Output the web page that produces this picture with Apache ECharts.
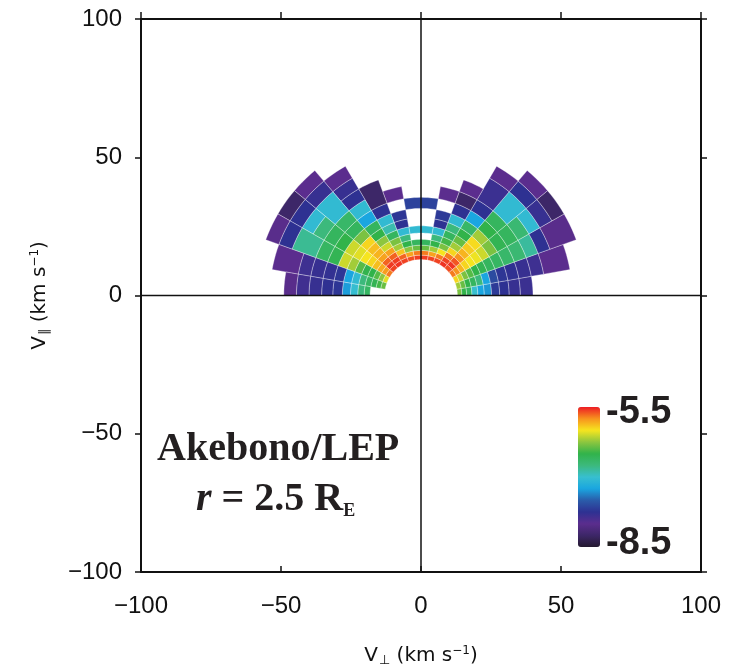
<!DOCTYPE html>
<html>
<head>
<meta charset="utf-8">
<script src="https://cdn.jsdelivr.net/npm/echarts/dist/echarts.min.js"></script>
<style>html,body{margin:0;padding:0;background:#fff}#chart{width:737px;height:672px}</style>
</head>
<body>
<div id="chart"></div>
<script>
// ---- data ----
const axisTicks = [-100, -50, 0, 50, 100];
// radial (speed, km/s) bin edges
const speedEdges = [13, 14.6, 16.3, 18.2, 20.3, 22.6, 25.2, 28.1, 31.5, 35.5, 40, 44.5, 49, 54, 59];
// angular bin edges (degrees from +V_perp axis)
const angleEdges = [0, 10, 20, 30, 40, 50, 60, 70, 80, 100, 110, 120, 130, 140, 150, 160, 170, 180];
// log10 phase space density, one row per angular bin, one entry per radial bin (null = no data)
const logF = [
  [-6.3, -6.5, -6.6, -7.0, -7.25, -7.3, -7.7, -7.75, -7.8, -7.82, null, null, null, null],
  [-6.2, -6.35, -6.5, -6.6, -6.75, -7.25, -7.6, -7.72, -7.76, -7.8, -7.84, -8.0, -8.0, null],
  [-5.95, -6.1, -6.3, -6.4, -6.5, -6.55, -6.6, -6.62, -6.66, -6.7, -6.85, -7.75, -8.02, -8.02],
  [-5.7, -5.75, -5.85, -5.95, -6.0, -6.02, -6.1, -6.3, -6.55, -6.6, -6.7, -7.05, -7.8, -8.25],
  [-5.6, -5.55, -5.62, -5.75, -5.85, -5.92, -5.97, -6.2, -6.5, -6.6, -7.05, -7.05, -7.75, -8.0],
  [-5.55, -5.58, -5.7, -5.95, -6.2, -6.35, -6.5, -6.65, -7.25, -7.75, -7.82, -7.82, -8.0, null],
  [-5.58, -5.7, -6.0, -6.3, -6.45, -6.6, -6.75, -7.05, -7.75, -8.25, -8.0, null, null, null],
  [-5.58, -5.8, -6.2, -6.5, -6.75, -7.05, -7.75, -7.7, null, -8.0, null, null, null, null],
  [-5.57, -5.7, -6.35, -6.6, null, -7.05, null, null, -7.65, null, null, null, null, null],
  [-5.6, -5.8, -6.25, -6.5, -6.75, -7.05, -7.75, -7.72, null, -8.0, null, null, null, null],
  [-5.58, -5.65, -5.9, -6.2, -6.3, -6.6, -6.9, -7.05, -7.75, -8.25, -8.25, null, null, null],
  [-5.55, -5.57, -5.65, -5.8, -6.1, -6.25, -6.5, -6.6, -7.25, -7.05, -7.75, -7.8, -8.0, null],
  [-5.58, -5.56, -5.65, -5.8, -5.85, -5.88, -5.95, -6.3, -6.6, -6.65, -7.05, -7.05, -7.8, -8.0],
  [-5.7, -5.78, -5.82, -5.88, -5.95, -6.0, -6.05, -6.1, -6.5, -6.6, -6.75, -7.05, -7.75, -8.25],
  [-6.05, -6.25, -6.4, -6.5, -6.52, -6.4, -6.2, -6.1, -6.55, -6.62, -6.82, -6.82, -7.75, -8.02],
  [-6.35, -6.45, -6.55, -6.62, -6.75, -7.05, -7.25, -7.72, -7.78, -7.8, -7.84, -8.0, -8.0, null],
  [null, null, null, -6.62, -6.75, -7.02, -7.28, -7.72, -7.76, -7.8, -7.85, -8.02, null, null]
];
const colorRange = [-8.5, -5.5];
const colorLabels = ['-5.5', '-8.5'];
const palette = ['#24192f', '#3d2768', '#5b2d8e', '#2e3192', '#2a5caa', '#1aa6e0', '#38bfcf',
                 '#3cb97c', '#31b34a', '#8dc63f', '#f6e51f', '#f7931e', '#ed1c24'];
const titleLine1 = 'Akebono/LEP';

// ---- build cells (merge equal neighbouring radial bins) ----
const cells = [];
logF.forEach(function (row, i) {
  let k = 0;
  while (k < row.length) {
    const v = row[k];
    if (v === null) { k++; continue; }
    let j = k;
    while (j + 1 < row.length && row[j + 1] === v) j++;
    cells.push([speedEdges[k], speedEdges[j + 1], angleEdges[i], angleEdges[i + 1], v]);
    k = j + 1;
  }
});

function renderCell(params, api) {
  const r0 = api.value(0), r1 = api.value(1), a0 = api.value(2), a1 = api.value(3);
  const n = Math.max(2, Math.ceil((a1 - a0) / 2));
  const pts = [];
  for (let i = 0; i <= n; i++) {
    const a = (a0 + (a1 - a0) * i / n) * Math.PI / 180;
    pts.push(api.coord([r1 * Math.cos(a), r1 * Math.sin(a)]));
  }
  for (let i = n; i >= 0; i--) {
    const a = (a0 + (a1 - a0) * i / n) * Math.PI / 180;
    pts.push(api.coord([r0 * Math.cos(a), r0 * Math.sin(a)]));
  }
  return {
    type: 'polygon',
    shape: { points: pts },
    style: { fill: api.visual('color'), stroke: 'rgba(255,255,255,0.55)', lineWidth: 0.6 }
  };
}

const fmt = function (v) { return String(v).replace('-', '\u2212'); };
const black = '#111';
const lab = { color: black, fontSize: 24, fontFamily: 'Liberation Sans' };
const nameRich = {
  a: { fontSize: 20, fontFamily: 'DejaVu Sans', color: black },
  s: { fontSize: 13, fontFamily: 'DejaVu Sans', color: black, padding: [10, 0, 0, 1] },
  p: { fontSize: 12, fontFamily: 'DejaVu Sans', color: black, padding: [0, 0, 10, 0] }
};

const chart = echarts.init(document.getElementById('chart'), null, { renderer: 'canvas' });
chart.setOption({
  animation: false,
  backgroundColor: '#fff',
  grid: { left: 141, top: 19, width: 560, height: 557, containLabel: false },
  xAxis: [
    {
      type: 'value', min: axisTicks[0], max: axisTicks[axisTicks.length - 1], interval: 50,
      position: 'bottom',
      axisLine: { onZero: false, lineStyle: { color: black, width: 2 } },
      axisTick: { inside: true, length: 6, lineStyle: { color: black, width: 1.5 } },
      axisLabel: Object.assign({ margin: 22, formatter: fmt }, lab),
      splitLine: { show: false },
      name: '{a|V}{s|⊥}{a| (km s}{p|−1}{a|)}',
      nameLocation: 'middle', nameGap: 72,
      nameTextStyle: { rich: nameRich }
    },
    {
      type: 'value', min: axisTicks[0], max: axisTicks[axisTicks.length - 1], interval: 50,
      position: 'top',
      axisLine: { onZero: false, lineStyle: { color: black, width: 2 } },
      axisTick: { inside: false, length: 7, lineStyle: { color: black, width: 1.5 } },
      axisLabel: { show: false },
      splitLine: { show: false }
    }
  ],
  yAxis: [
    {
      type: 'value', min: axisTicks[0], max: axisTicks[axisTicks.length - 1], interval: 50,
      position: 'left',
      axisLine: { onZero: false, lineStyle: { color: black, width: 2 } },
      axisTick: { inside: false, length: 6, lineStyle: { color: black, width: 1.5 } },
      axisLabel: Object.assign({ margin: 19, formatter: fmt }, lab),
      splitLine: { show: false },
      name: '{a|V}{s|∥}{a| (km s}{p|−1}{a|)}',
      nameLocation: 'middle', nameGap: 90, nameRotate: 90,
      nameTextStyle: { rich: nameRich }
    },
    {
      type: 'value', min: axisTicks[0], max: axisTicks[axisTicks.length - 1], interval: 50,
      position: 'right',
      axisLine: { onZero: false, lineStyle: { color: black, width: 2 } },
      axisTick: { inside: false, length: 6, lineStyle: { color: black, width: 1.5 } },
      axisLabel: { show: false },
      splitLine: { show: false }
    }
  ],
  visualMap: {
    type: 'continuous', min: colorRange[0], max: colorRange[1], dimension: 4, seriesIndex: 0,
    calculable: false, realtime: false, text: null, showLabel: false,
    orient: 'vertical', left: 578, top: 407, itemWidth: 22, itemHeight: 140, padding: 0,
    inRange: { color: palette }
  },
  graphic: [
    { type: 'text', left: 606, top: 394, style: { text: colorLabels[0], font: 'bold 38px "Liberation Sans"', fill: '#231f20' } },
    { type: 'text', left: 606, top: 525, style: { text: colorLabels[1], font: 'bold 38px "Liberation Sans"', fill: '#231f20' } },
    { type: 'text', left: 157, top: 430, style: { text: titleLine1, font: 'bold 40px "Liberation Serif"', fill: '#231f20' } },
    {
      type: 'text', left: 196, top: 480,
      style: {
        text: '{i|r}{n| = 2.5 R}{s|E}',
        rich: {
          i: { font: 'italic bold 40px "Liberation Serif"', fill: '#231f20' },
          n: { font: 'bold 40px "Liberation Serif"', fill: '#231f20' },
          s: { font: 'bold 18px "Liberation Serif"', fill: '#231f20', padding: [22, 0, 0, 0] }
        }
      }
    }
  ],
  series: [
    {
      type: 'custom', renderItem: renderCell, data: cells,
      dimensions: ['r0', 'r1', 'a0', 'a1', 'logf'],
      encode: { x: 0, y: 2 }, z: 2
    },
    {
      type: 'line', data: [[0, axisTicks[0]], [0, axisTicks[4]]], symbol: 'none', silent: true,
      lineStyle: { color: black, width: 1.5 }, z: 5
    },
    {
      type: 'line', data: [[axisTicks[0], 0], [axisTicks[4], 0]], symbol: 'none', silent: true,
      lineStyle: { color: black, width: 1.5 }, z: 5
    }
  ]
});
</script>
</body>
</html>
